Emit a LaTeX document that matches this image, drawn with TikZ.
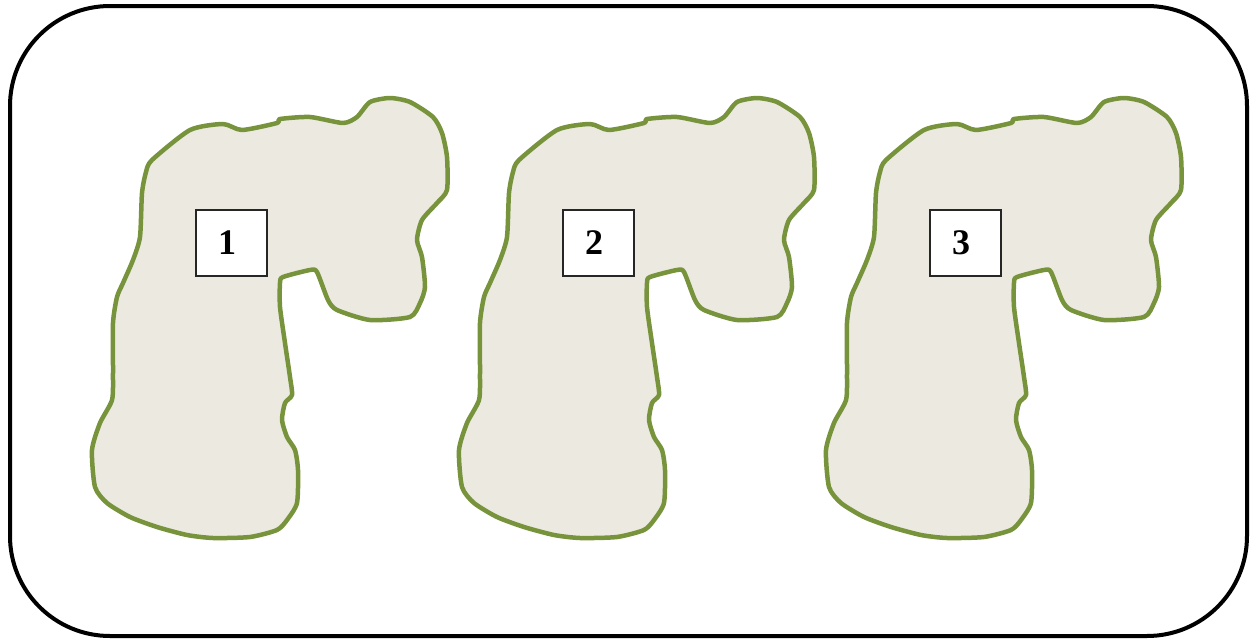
\documentclass[tikz,border=0pt]{standalone}
\usepackage{fontspec}
\setmainfont{Liberation Serif}
\definecolor{blobfill}{RGB}{236,234,224}
\definecolor{blobline}{RGB}{119,147,60}
\tikzset{
  blob/.style={draw=blobline, fill=blobfill, line width=4.5pt, line join=round},
  labelbox/.style={draw=black!85, fill=white, line width=1.4pt, minimum width=71pt, minimum height=66pt, inner sep=0pt, font=\fontsize{36}{38}\selectfont\bfseries},
  frame/.style={draw=black, line width=4pt, rounded corners=100pt}
}
\newcommand{\blobpath}{plot[smooth cycle, tension=0.4] coordinates {
(152,-160) (190,-130) (223,-124) (242,-130) (277,-123) (280,-119) (310,-117) (343,-123)
(357,-117) (370,-102) (390,-98) (410,-102) (433,-117) (442,-133) (447,-157) (447,-190)
(437,-203) (422,-220) (417,-240) (422,-257) (425,-287) (420,-303) (410,-317) (370,-320)
(337,-310) (328,-300) (317,-272) (310,-270) (283,-277) (280,-283) (280,-307) (285,-343)
(290,-377) (292,-395) (285,-403) (282,-420) (287,-437) (295,-450) (298,-470) (297,-503)
(287,-520) (277,-530) (250,-537) (213,-538) (187,-535) (157,-527) (130,-517) (107,-503)
(95,-487) (92,-450) (100,-423) (112,-400) (113,-373) (113,-323) (117,-297) (123,-283)
(133,-260) (140,-237) (142,-193) (146,-172)}}
\begin{document}
\begin{tikzpicture}[x=1pt,y=1pt]
\useasboundingbox (0,0) rectangle (1254,-640);
\draw[frame] (10,-6) rectangle (1247,-636);
\foreach \i/\dx in {1/0,2/367,3/734}{
  \begin{scope}[xshift=\dx pt]
    \path[blob] \blobpath;
    \node[labelbox] (b\i) at (231.5,-243) {\hspace*{-9pt}\i};
  \end{scope}
}
\end{tikzpicture}
\end{document}
